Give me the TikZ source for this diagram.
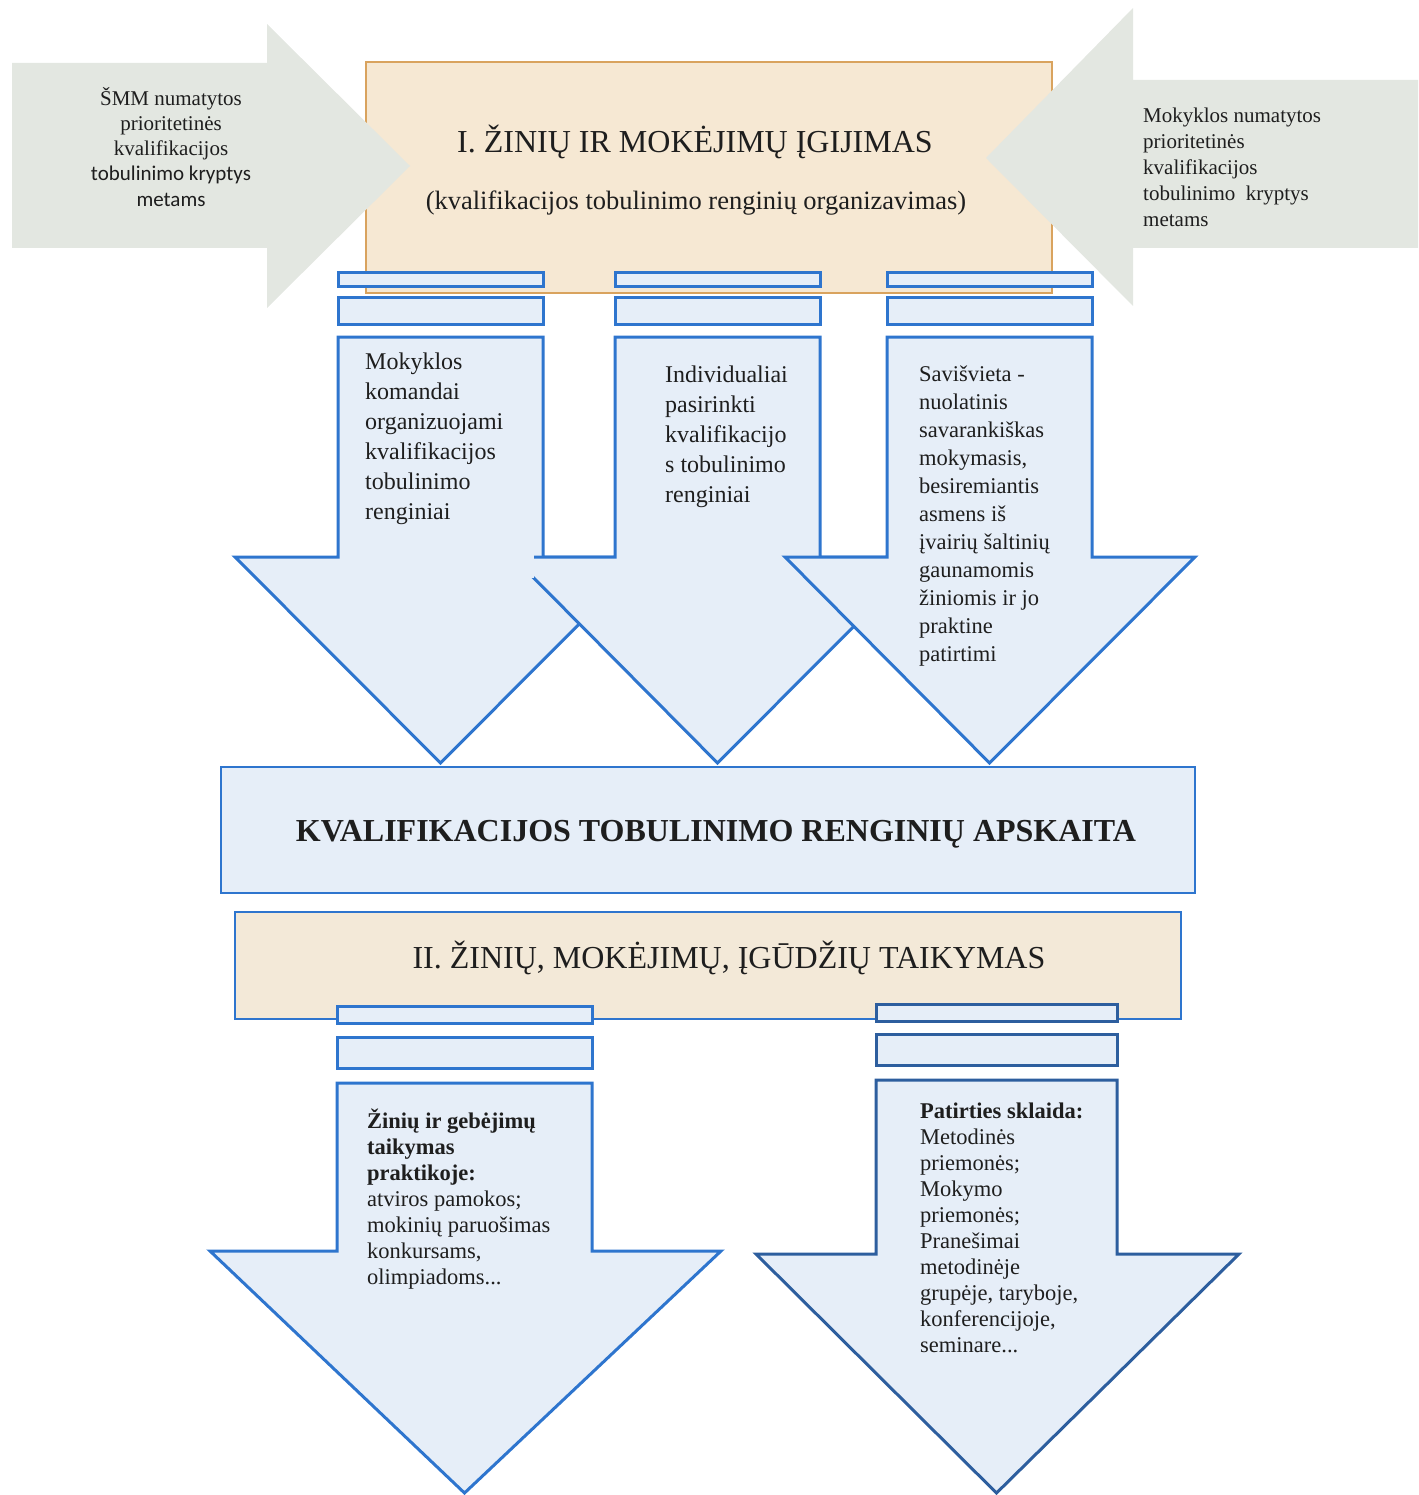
\documentclass[tikz,border=0pt]{standalone}
\usepackage{fontspec}
\setmainfont{Liberation Serif}
\newfontfamily\calibri{Carlito}

\definecolor{blueline}{HTML}{2E75CE}
\definecolor{bluedark}{HTML}{2D5E9E}
\definecolor{bluefill}{HTML}{E6EEF8}
\definecolor{grayfill}{HTML}{E3E7E1}
\definecolor{orangeline}{HTML}{D9A35E}
\definecolor{orangefill}{HTML}{F6E8D3}
\definecolor{beigefill}{HTML}{F3E9D8}
\definecolor{ink}{HTML}{1E1E1E}

\tikzset{
	bluebar/.style={draw=blueline, fill=bluefill, line width=3},
	bluebox/.style={draw=blueline, fill=bluefill, line width=2.5},
	beigebox/.style={draw=blueline, fill=beigefill, line width=2.5},
	orangebox/.style={draw=orangeline, fill=orangefill, line width=2.5},
	grayarrow/.style={fill=grayfill},
	txt/.style={inner sep=0, text=ink, anchor=north west, align=left}
}

\begin{document}
\begin{tikzpicture}[x=1pt,y=-1pt]
\useasboundingbox (0,0) rectangle (1418,1495);

% stage I
\draw[orangebox] (366,62) rectangle (1052,293);
\fill[grayarrow] (12,63) -- (267,63) -- (267,24) -- (410,166) -- (267,308) -- (267,248) -- (12,248) -- cycle;
\fill[grayarrow] (1418,80) -- (1133,80) -- (1133,8) -- (986,158) -- (1133,306) -- (1133,248) -- (1418,248) -- cycle;

\node[inner sep=0, text=ink, anchor=base, font=\fontsize{32}{38}\selectfont] (igijimas) at (695,153) {I. ŽINIŲ IR MOKĖJIMŲ ĮGIJIMAS};
\node[inner sep=0, text=ink, anchor=base, font=\fontsize{26.5}{32}\selectfont] (organizavimas) at (696,210) {(kvalifikacijos tobulinimo renginių organizavimas)};

\node[txt, anchor=north, align=center, font=\fontsize{21}{25.2}\selectfont] (smm) at (171,87)
	{ŠMM numatytos\\prioritetinės\\kvalifikacijos\\{\calibri tobulinimo kryptys}\\{\calibri metams}};
\node[txt, font=\fontsize{21}{26}\selectfont] (mokykla) at (1143,108)
	{Mokyklos numatytos\\prioritetinės\\kvalifikacijos\\tobulinimo\ \ kryptys\\metams};

% three ways
\foreach \xl/\xr/\hl/\hr in {338/543/235/646, 615/820/513/923, 887/1092/785/1195} {
	\draw[bluebar] (\xl,273) rectangle (\xr,287);
	\draw[bluebar] (\xl,298) rectangle (\xr,324);
	\draw[bluebar] (\xl,337) -- (\xr,337) -- (\xr,557) -- (\hr,557) -- ({(\xl+\xr)/2},763) -- (\hl,557) -- (\xl,557) -- cycle;
}
\fill[bluefill] (509,553) rectangle (534,578);

\node[txt, font=\fontsize{24}{30}\selectfont] (komandai) at (365,353)
	{Mokyklos\\komandai\\organizuojami\\kvalifikacijos\\tobulinimo\\renginiai};
\node[txt, font=\fontsize{24}{30}\selectfont] (individualiai) at (665,366)
	{Individualiai\\pasirinkti\\kvalifikacijo\\s tobulinimo\\renginiai};
\node[txt, font=\fontsize{22.5}{28}\selectfont] (saviszvieta) at (919,366)
	{Savišvieta -\\nuolatinis\\savarankiškas\\mokymasis,\\besiremiantis\\asmens iš\\įvairių šaltinių\\gaunamomis\\žiniomis ir jo\\praktine\\patirtimi};

% record
\draw[bluebox] (221,767) rectangle (1195,893);
\node[inner sep=0, text=ink, anchor=base, font=\fontsize{32}{38}\selectfont\bfseries] (apskaita) at (716,841) {KVALIFIKACIJOS TOBULINIMO RENGINIŲ APSKAITA};

% stage II
\draw[beigebox] (235,912) rectangle (1181,1019);
\node[inner sep=0, text=ink, anchor=base, font=\fontsize{32}{38}\selectfont] (taikymas) at (729,968) {II. ŽINIŲ, MOKĖJIMŲ, ĮGŪDŽIŲ TAIKYMAS};

\foreach \xl/\xr/\ya/\yb/\yc/\yd/\hl/\hr/\c in {337/592/1006/1037/1083/1251/210/721/blueline, 876/1117/1004/1034/1080/1254/756/1239/bluedark} {
	\draw[bluebar, draw=\c] (\xl,\ya) rectangle (\xr,\ya+17);
	\draw[bluebar, draw=\c] (\xl,\yb) rectangle (\xr,\yb+31);
	\draw[bluebar, draw=\c] (\xl,\yc) -- (\xr,\yc) -- (\xr,\yd) -- (\hr,\yd) -- ({(\xl+\xr)/2},1493) -- (\hl,\yd) -- (\xl,\yd) -- cycle;
}

\node[txt, font=\fontsize{22.5}{26}\selectfont] (praktika) at (367,1109)
	{\textbf{Žinių ir gebėjimų}\\\textbf{taikymas}\\\textbf{praktikoje:}\\atviros pamokos;\\mokinių paruošimas\\konkursams,\\olimpiadoms...};
\node[txt, font=\fontsize{22.5}{26}\selectfont] (sklaida) at (920,1103)
	{\textbf{Patirties sklaida:}\\Metodinės\\priemonės;\\Mokymo\\priemonės;\\Pranešimai\\metodinėje\\grupėje, taryboje,\\konferencijoje,\\seminare...};
\end{tikzpicture}
\end{document}
